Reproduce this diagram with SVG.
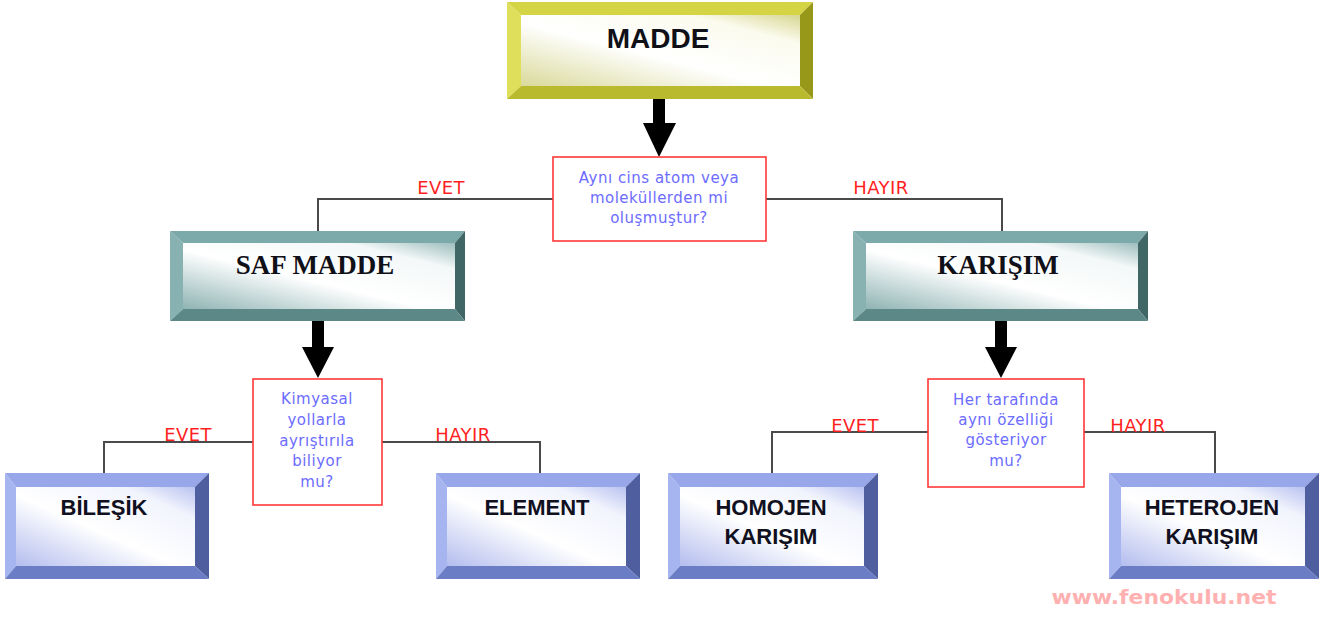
<svg xmlns="http://www.w3.org/2000/svg" width="1328" height="617" viewBox="0 0 1328 617">
<defs>
<linearGradient id="gY" x1="0" y1="1" x2="1" y2="0">
<stop offset="0" stop-color="#d9d99a"/><stop offset="0.45" stop-color="#ffffff"/><stop offset="0.8" stop-color="#fbfbee"/><stop offset="1" stop-color="#d6d690"/>
</linearGradient>
<linearGradient id="gT" x1="0" y1="1" x2="1" y2="0">
<stop offset="0" stop-color="#8fb3b3"/><stop offset="0.45" stop-color="#ffffff"/><stop offset="0.8" stop-color="#f4f8f8"/><stop offset="1" stop-color="#9dbdbd"/>
</linearGradient>
<linearGradient id="gB" x1="0" y1="1" x2="1" y2="0">
<stop offset="0" stop-color="#b3bdee"/><stop offset="0.45" stop-color="#ffffff"/><stop offset="0.8" stop-color="#f2f4fd"/><stop offset="1" stop-color="#b8c2f0"/>
</linearGradient>
</defs>
<style>
.yT{fill:#d4d444}.yL{fill:#dfdf5c}.yR{fill:#97971a}.yB{fill:#baba2e}
.tT{fill:#7ca9a9}.tL{fill:#88b2b2}.tR{fill:#406666}.tB{fill:#5c8888}
.bT{fill:#97a7ea}.bL{fill:#a6b4ef}.bR{fill:#4e5e9e}.bB{fill:#6b7dc5}
.q{fill:#ffffff;stroke:#ff3838;stroke-width:1.6}
.qt{font-family:"DejaVu Sans",Verdana,sans-serif;font-size:15px;fill:#6c6cff;text-anchor:middle;letter-spacing:0.5px}
.lbl{font-family:"DejaVu Sans",Tahoma,sans-serif;font-size:18px;fill:#ff1f1f;text-anchor:middle;letter-spacing:0.4px}
.h1{font-family:"Liberation Sans",Arial,sans-serif;font-weight:bold;font-size:28px;fill:#101018;text-anchor:middle}
.h2{font-family:"Liberation Serif","Times New Roman",serif;font-weight:bold;font-size:27px;fill:#101018;text-anchor:middle}
.h3{font-family:"Liberation Sans",Arial,sans-serif;font-weight:bold;font-size:22px;fill:#101020;text-anchor:middle}
.ln{fill:none;stroke:#4a4a4a;stroke-width:2}
.ar{fill:#000000}
</style>

<g id="connectors">
<polyline class="ln" points="553,199 318,199 318,231"/>
<polyline class="ln" points="766,199 1002,199 1002,231"/>
<polyline class="ln" points="253,442 104,442 104,473"/>
<polyline class="ln" points="382,442 540,442 540,473"/>
<polyline class="ln" points="928,432 772,432 772,473"/>
<polyline class="ln" points="1084,432 1215,432 1215,473"/>
<polygon class="ar" points="653,99 665,99 665,123 676,123 659,157 643,123 653,123"/>
<polygon class="ar" points="312,321 324,321 324,347 334,347 318,378 302,347 312,347"/>
<polygon class="ar" points="995,321 1007,321 1007,347 1017,347 1001,378 985,347 995,347"/>
<text class="lbl" x="441" y="194">EVET</text>
<text class="lbl" x="881" y="194">HAYIR</text>
<text class="lbl" x="188" y="441">EVET</text>
<text class="lbl" x="463" y="441">HAYIR</text>
<text class="lbl" x="855" y="432">EVET</text>
<text class="lbl" x="1138" y="432">HAYIR</text>
</g>

<g id="madde">
<polygon class="yT" points="507,2 813,2 800,15 521,15"/>
<polygon class="yL" points="507,2 521,15 521,86 507,99"/>
<polygon class="yR" points="813,2 813,99 800,86 800,15"/>
<polygon class="yB" points="507,99 521,86 800,86 813,99"/>
<rect x="521" y="15" width="279" height="71" fill="url(#gY)"/>
<text class="h1" x="658" y="48">MADDE</text>
</g>

<g id="q1">
<rect class="q" x="553" y="157" width="213" height="84"/>
<text class="qt" x="659" y="183">Aynı cins atom veya</text>
<text class="qt" x="659" y="203">moleküllerden mi</text>
<text class="qt" x="659" y="223">oluşmuştur?</text>
</g>

<g id="saf-madde">
<polygon class="tT" points="170,231 465,231 455,243 183,243"/>
<polygon class="tL" points="170,231 183,243 183,309 170,321"/>
<polygon class="tR" points="465,231 465,321 455,309 455,243"/>
<polygon class="tB" points="170,321 183,309 455,309 465,321"/>
<rect x="183" y="243" width="272" height="66" fill="url(#gT)"/>
<text class="h2" x="315" y="274">SAF MADDE</text>
</g>

<g id="karisim">
<polygon class="tT" points="853,231 1148,231 1138,243 866,243"/>
<polygon class="tL" points="853,231 866,243 866,309 853,321"/>
<polygon class="tR" points="1148,231 1148,321 1138,309 1138,243"/>
<polygon class="tB" points="853,321 866,309 1138,309 1148,321"/>
<rect x="866" y="243" width="272" height="66" fill="url(#gT)"/>
<text class="h2" x="998" y="274">KARIŞIM</text>
</g>

<g id="q2">
<rect class="q" x="253" y="379" width="129" height="126"/>
<text class="qt" x="317" y="404">Kimyasal</text>
<text class="qt" x="317" y="425">yollarla</text>
<text class="qt" x="317" y="446">ayrıştırıla</text>
<text class="qt" x="317" y="466">biliyor</text>
<text class="qt" x="317" y="487">mu?</text>
</g>

<g id="q3">
<rect class="q" x="928" y="379" width="156" height="108"/>
<text class="qt" x="1006" y="405">Her tarafında</text>
<text class="qt" x="1006" y="425">aynı özelliği</text>
<text class="qt" x="1006" y="445">gösteriyor</text>
<text class="qt" x="1006" y="466">mu?</text>
</g>

<g id="bilesik">
<polygon class="bT" points="5,473 209,473 195,487 16,487"/>
<polygon class="bL" points="5,473 16,487 16,566 5,579"/>
<polygon class="bR" points="209,473 209,579 195,566 195,487"/>
<polygon class="bB" points="5,579 16,566 195,566 209,579"/>
<rect x="16" y="487" width="179" height="79" fill="url(#gB)"/>
<text class="h3" x="104" y="515">BİLEŞİK</text>
</g>

<g id="element">
<polygon class="bT" points="436,473 640,473 626,487 447,487"/>
<polygon class="bL" points="436,473 447,487 447,566 436,579"/>
<polygon class="bR" points="640,473 640,579 626,566 626,487"/>
<polygon class="bB" points="436,579 447,566 626,566 640,579"/>
<rect x="447" y="487" width="179" height="79" fill="url(#gB)"/>
<text class="h3" x="537" y="515">ELEMENT</text>
</g>

<g id="homojen">
<polygon class="bT" points="668,473 878,473 864,487 680,487"/>
<polygon class="bL" points="668,473 680,487 680,566 668,579"/>
<polygon class="bR" points="878,473 878,579 864,566 864,487"/>
<polygon class="bB" points="668,579 680,566 864,566 878,579"/>
<rect x="680" y="487" width="184" height="79" fill="url(#gB)"/>
<text class="h3" x="771" y="515">HOMOJEN</text>
<text class="h3" x="771" y="544">KARIŞIM</text>
</g>

<g id="heterojen">
<polygon class="bT" points="1109,473 1319,473 1305,487 1121,487"/>
<polygon class="bL" points="1109,473 1121,487 1121,566 1109,579"/>
<polygon class="bR" points="1319,473 1319,579 1305,566 1305,487"/>
<polygon class="bB" points="1109,579 1121,566 1305,566 1319,579"/>
<rect x="1121" y="487" width="184" height="79" fill="url(#gB)"/>
<text class="h3" x="1212" y="515">HETEROJEN</text>
<text class="h3" x="1212" y="544">KARIŞIM</text>
</g>

<text x="1164" y="604" font-family="'DejaVu Sans',Verdana,sans-serif" font-weight="bold" font-size="19" fill="#ffb0b0" text-anchor="middle" textLength="225" lengthAdjust="spacingAndGlyphs">www.fenokulu.net</text>
</svg>
